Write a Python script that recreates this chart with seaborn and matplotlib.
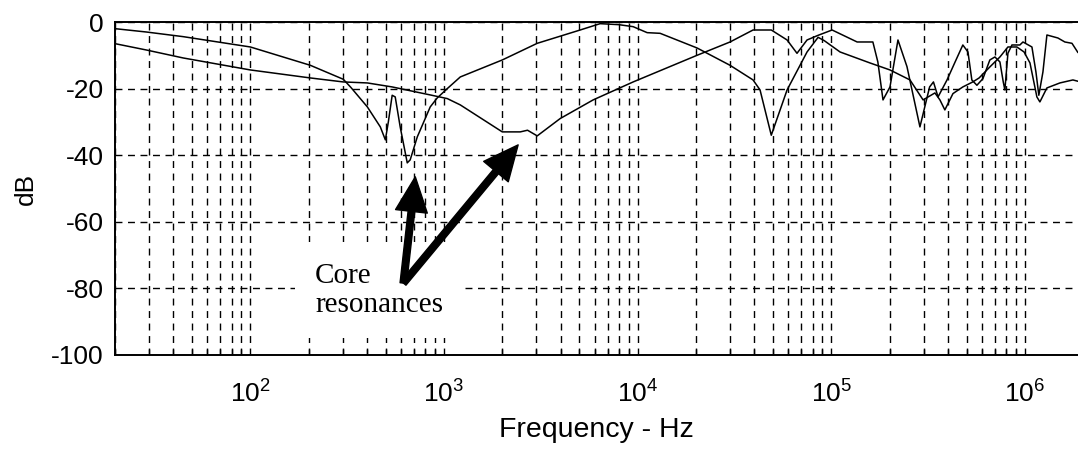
import matplotlib
matplotlib.use("Agg")
import matplotlib.pyplot as plt
import numpy as np
import pandas as pd
import seaborn as sns

# Transfer response traces (frequency in Hz, magnitude in dB)
freq_a = [20, 29, 45, 100, 204, 302, 330, 402, 469, 498, 516, 540, 560, 594,
          646, 669, 728, 849, 923, 1040, 1214, 2000, 3030, 5050, 6400, 8000,
          9480, 11200, 13070, 20270, 30000, 39450, 42870, 49000, 59130, 74970,
          85500, 92000, 111000, 158500, 201000, 255000, 298000, 343000, 364000,
          386000, 425000, 478000, 538000, 580000, 659000, 743000, 817000,
          909000, 990000, 1062000, 1153000, 1195000, 1299000, 1516000,
          1770000, 1880000]
db_a = [-2, -3, -4.4, -7.5, -13, -17.2, -19.6, -25.5, -31.5, -35.4, -30, -22,
        -22.5, -31.5, -42.3, -41.4, -34.5, -25.5, -22.8, -20, -16.5, -11.4,
        -6.4, -2.4, -0.5, -0.8, -1.4, -3.2, -3.4, -7.8, -13, -17.4, -20.4, -34,
        -20.4, -9, -4.6, -5.6, -9, -12.3, -14.4, -17.4, -23.4, -21.3, -23.4,
        -26.4, -21.5, -19.5, -18, -16.8, -13.5, -10.5, -7.5, -7.5, -9, -12.3,
        -22.5, -24, -19.8, -18.3, -17.4, -17.8]

freq_b = [20, 29, 45, 100, 204, 302, 402, 540, 849, 1040, 1214, 2000, 2477,
          2700, 3030, 3980, 5890, 9480, 20270, 30000, 39450, 49000, 59130,
          66530, 74970, 85500, 101000, 136000, 164000, 174000, 185000, 201000,
          221000, 246000, 287000, 322000, 337000, 356000, 396000, 436000,
          478000, 508000, 532000, 565000, 607000, 659000, 700000, 743000,
          773000, 788000, 817000, 857000, 942000, 977000, 1087000, 1140000,
          1180000, 1239000, 1299000, 1480000, 1608000, 1750000, 1880000]
db_b = [-6.5, -8.4, -10.8, -14.4, -16.8, -18, -18.3, -19.5, -21.9, -23, -24.9,
        -33, -33, -32.5, -34.2, -29, -23.4, -18, -10, -6, -2.4, -2.4, -5.4,
        -9.4, -5.4, -4, -2.4, -6, -6, -12, -23.4, -19.5, -5.4, -13.4, -31.5,
        -19.5, -18, -22.5, -17.4, -12, -6.9, -9, -17.4, -19, -17, -11.4, -10.5,
        -12, -18, -20.4, -9.4, -6.9, -6.9, -6, -7.5, -15, -22, -15, -3.9, -4.8,
        -6, -6.4, -9.2]

y_ticks = [0, -20, -40, -60, -80, -100]
x_label = "Frequency - Hz"
y_label = "dB"
note_text = "Core\nresonances"

sns.set_theme(style="white")
plt.rcParams["font.family"] = ["Liberation Sans", "DejaVu Sans"]
plt.rcParams["axes.unicode_minus"] = False
plt.rcParams["mathtext.default"] = "regular"

fig = plt.figure(figsize=(10.78, 4.49), dpi=100)
fig.patch.set_facecolor("white")
ax = fig.add_axes([115 / 1078, 94 / 449, 963 / 1078, 333 / 449])
ax.set_facecolor("white")

df = pd.concat([
    pd.DataFrame({"f": freq_a, "db": db_a, "trace": "a"}),
    pd.DataFrame({"f": freq_b, "db": db_b, "trace": "b"}),
])
sns.lineplot(data=df, x="f", y="db", units="trace", estimator=None, sort=False,
             color="black", linewidth=1.1, ax=ax, legend=False, zorder=4)

ax.set_xscale("log")
ax.set_xlim(20, 1.88e6)
ax.set_ylim(-100, 0)
ax.set_yticks(y_ticks)
ax.set_xticks([1e2, 1e3, 1e4, 1e5, 1e6])
ax.xaxis.set_minor_locator(matplotlib.ticker.LogLocator(base=10, subs=np.arange(2, 10)))
ax.xaxis.set_minor_formatter(matplotlib.ticker.NullFormatter())

dash = (0, (5, 4))
ax.grid(True, which="both", axis="x", color="black", linestyle=dash, linewidth=1.0)
ax.grid(True, which="major", axis="y", color="black", linestyle=dash, linewidth=1.0)

for side in ["left", "bottom", "top"]:
    ax.spines[side].set_visible(True)
    ax.spines[side].set_color("black")
    ax.spines[side].set_linewidth(1.4)
ax.spines["right"].set_visible(False)

ax.tick_params(axis="both", which="major", direction="in", length=7, width=1,
               color="black", labelsize=19, labelcolor="black")
ax.tick_params(axis="x", which="minor", direction="in", length=4, width=1,
               color="black", bottom=True)
ax.tick_params(axis="y", pad=8)
ax.tick_params(axis="x", pad=18)

ax.set_xlabel(x_label, fontsize=20.5, color="black", labelpad=7)
ax.set_ylabel(y_label, fontsize=19, color="black", labelpad=10)

ax.text(216, -80.5, note_text, ha="left", va="center", fontsize=21,
        family=["Liberation Serif", "DejaVu Serif"], color="black",
        linespacing=1.15, zorder=5,
        bbox=dict(boxstyle="square,pad=0.7", facecolor="white", edgecolor="none"))

arrow_style = "simple,head_length=1.25,head_width=1.15,tail_width=0.24"
for tip in [(711, -46.5), (2415, -36.9)]:
    ax.annotate("", xy=tip, xytext=(617, -78.4),
                arrowprops=dict(arrowstyle=arrow_style, color="black",
                                mutation_scale=20, shrinkA=0, shrinkB=0),
                zorder=6)

fig.savefig("out.png", dpi=100, facecolor="white")
